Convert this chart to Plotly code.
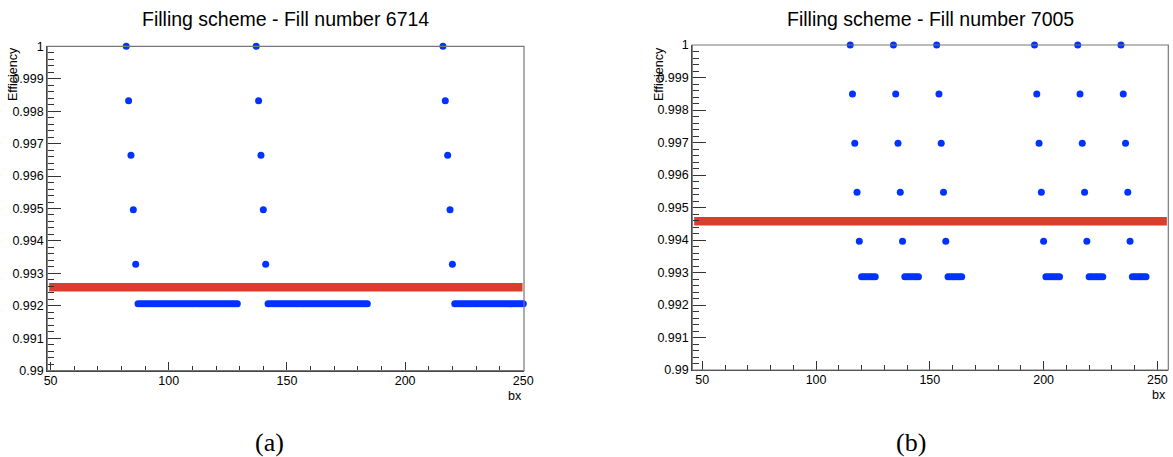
import plotly.graph_objects as go

# ---------------- data ----------------
titles = ["Filling scheme - Fill number 6714", "Filling scheme - Fill number 7005"]
captions = ["(a)", "(b)"]

# Panel (a): Fill 6714
a_single_starts = [82, 137, 216]                      # bx of first (eff = 1) bunch of each train
a_single_levels = [1.0, 0.99832, 0.99664, 0.99496, 0.99328]
a_train_ranges = [(87, 129), (142, 184), (221, 250)]  # bx ranges of the flat part
a_train_level = 0.99206
a_mean = 0.99257

# Panel (b): Fill 7005
b_single_starts = [115, 134, 153, 196, 215, 234]
b_single_levels = [1.0, 0.99849, 0.99698, 0.99547, 0.99396]
b_train_ranges = [(120, 126), (139, 145), (158, 164), (201, 207), (220, 226), (239, 245)]
b_train_level = 0.99287
b_mean = 0.99458

y_tickvals = [0.99, 0.991, 0.992, 0.993, 0.994, 0.995, 0.996, 0.997, 0.998, 0.999, 1.0]
y_ticktext = ["0.99", "0.991", "0.992", "0.993", "0.994", "0.995", "0.996", "0.997", "0.998", "0.999", "1"]
x_tickvals = [50, 100, 150, 200, 250]
x_ticktext = ["50", "100", "150", "200", "250"]


def build_points(starts, levels, ranges, level):
    xs, ys = [], []
    for s in starts:
        for k, lv in enumerate(levels):
            xs.append(s + k)
            ys.append(lv)
    for lo, hi in ranges:
        for b in range(lo, hi + 1):
            xs.append(b)
            ys.append(level)
    return xs, ys


ax, ay = build_points(a_single_starts, a_single_levels, a_train_ranges, a_train_level)
bx_, by = build_points(b_single_starts, b_single_levels, b_train_ranges, b_train_level)

# ---------------- layout helpers ----------------
W, H = 1173, 457
def px(x):
    return x / W
def py(y):
    return 1 - y / H

BLUE = "#0033FF"
RED = "#DC3C2A"
FONT = "Liberation Sans"

frames = [
    dict(x0=47.3, x1=524.0, y0=46.3, y1=370.7, xr=[48.6, 250.3]),
    dict(x0=692.3, x1=1168.3, y0=45.0, y1=370.0, xr=[45.6, 254.8]),
]

fig = go.Figure()
data = [(ax, ay, a_mean), (bx_, by, b_mean)]
for i, (xs, ys, mean) in enumerate(data):
    xa = "x" if i == 0 else "x2"
    ya = "y" if i == 0 else "y2"
    fig.add_trace(go.Scatter(
        x=xs, y=ys, mode="markers", xaxis=xa, yaxis=ya,
        marker=dict(color=BLUE, size=7, line=dict(width=0)),
        cliponaxis=False, showlegend=False, hoverinfo="skip"))
    # mean efficiency band
    fig.add_shape(type="line", xref=f"{xa} domain", yref=ya,
                  x0=0.004, x1=0.997, y0=mean, y1=mean,
                  line=dict(color=RED, width=8.5), layer="below")

axis_common = dict(showgrid=False, zeroline=False, showline=True, linecolor="#333333",
                   linewidth=1.2, ticks="inside", tickcolor="#333333", tickwidth=1,
                   automargin=False,
                   tickfont=dict(family=FONT, size=12.5, color="black"))

for i, f in enumerate(frames):
    xkey = "xaxis" if i == 0 else "xaxis2"
    ykey = "yaxis" if i == 0 else "yaxis2"
    xa_name = "x" if i == 0 else "x2"
    ya_name = "y" if i == 0 else "y2"
    fig.layout[xkey] = dict(
        axis_common, domain=[px(f["x0"]), px(f["x1"])], range=f["xr"], anchor=ya_name,
        tickmode="array", tickvals=x_tickvals, ticktext=x_ticktext, ticklen=9,
        ticklabelstandoff=-2,
        minor=dict(tickmode="linear", tick0=50, dtick=10, ticklen=5, ticks="inside",
                   tickcolor="#333333"))
    fig.layout[ykey] = dict(
        axis_common, domain=[py(f["y1"]), py(f["y0"])], range=[0.99, 1.0], anchor=xa_name,
        tickmode="array", tickvals=y_tickvals, ticktext=y_ticktext, ticklen=14,
        minor=dict(tickmode="linear", tick0=0.99, dtick=0.0002, ticklen=7, ticks="inside",
                   tickcolor="#333333"))
    # frame
    fig.add_shape(type="rect", xref="paper", yref="paper",
                  x0=px(f["x0"]), x1=px(f["x1"]), y0=py(f["y1"]), y1=py(f["y0"]),
                  line=dict(color="#777777", width=1.2), layer="above")
    cx = (f["x0"] + f["x1"]) / 2
    fig.add_annotation(text=titles[i], xref="paper", yref="paper", x=px(cx), y=py(19),
                       xanchor="center", yanchor="middle", showarrow=False,
                       font=dict(family=FONT, size=19.5, color="black"))
    fig.add_annotation(text="Efficiency", xref="paper", yref="paper",
                       x=px(13 if i == 0 else 659), y=py(74), textangle=-90,
                       xanchor="center", yanchor="middle", showarrow=False,
                       font=dict(family=FONT, size=12.5, color="black"))
    fig.add_annotation(text="bx", xref="paper", yref="paper",
                       x=px(f["x1"] - 0.5), y=py(396 if i == 0 else 395),
                       xanchor="right", yanchor="middle", showarrow=False,
                       font=dict(family=FONT, size=12.5, color="black"))
    fig.add_annotation(text=captions[i], xref="paper", yref="paper",
                       x=px(269 if i == 0 else 911), y=py(442),
                       xanchor="center", yanchor="middle", showarrow=False,
                       font=dict(family="Liberation Serif", size=26, color="black"))

fig.update_layout(template="none", width=W, height=H, autosize=False,
                  margin=dict(l=0, r=0, t=0, b=0, autoexpand=False),
                  paper_bgcolor="white", plot_bgcolor="white")

fig.write_html("out.html", config={"displayModeBar": False},
               post_script="document.body.style.margin='0px';document.body.style.overflow='hidden';")
